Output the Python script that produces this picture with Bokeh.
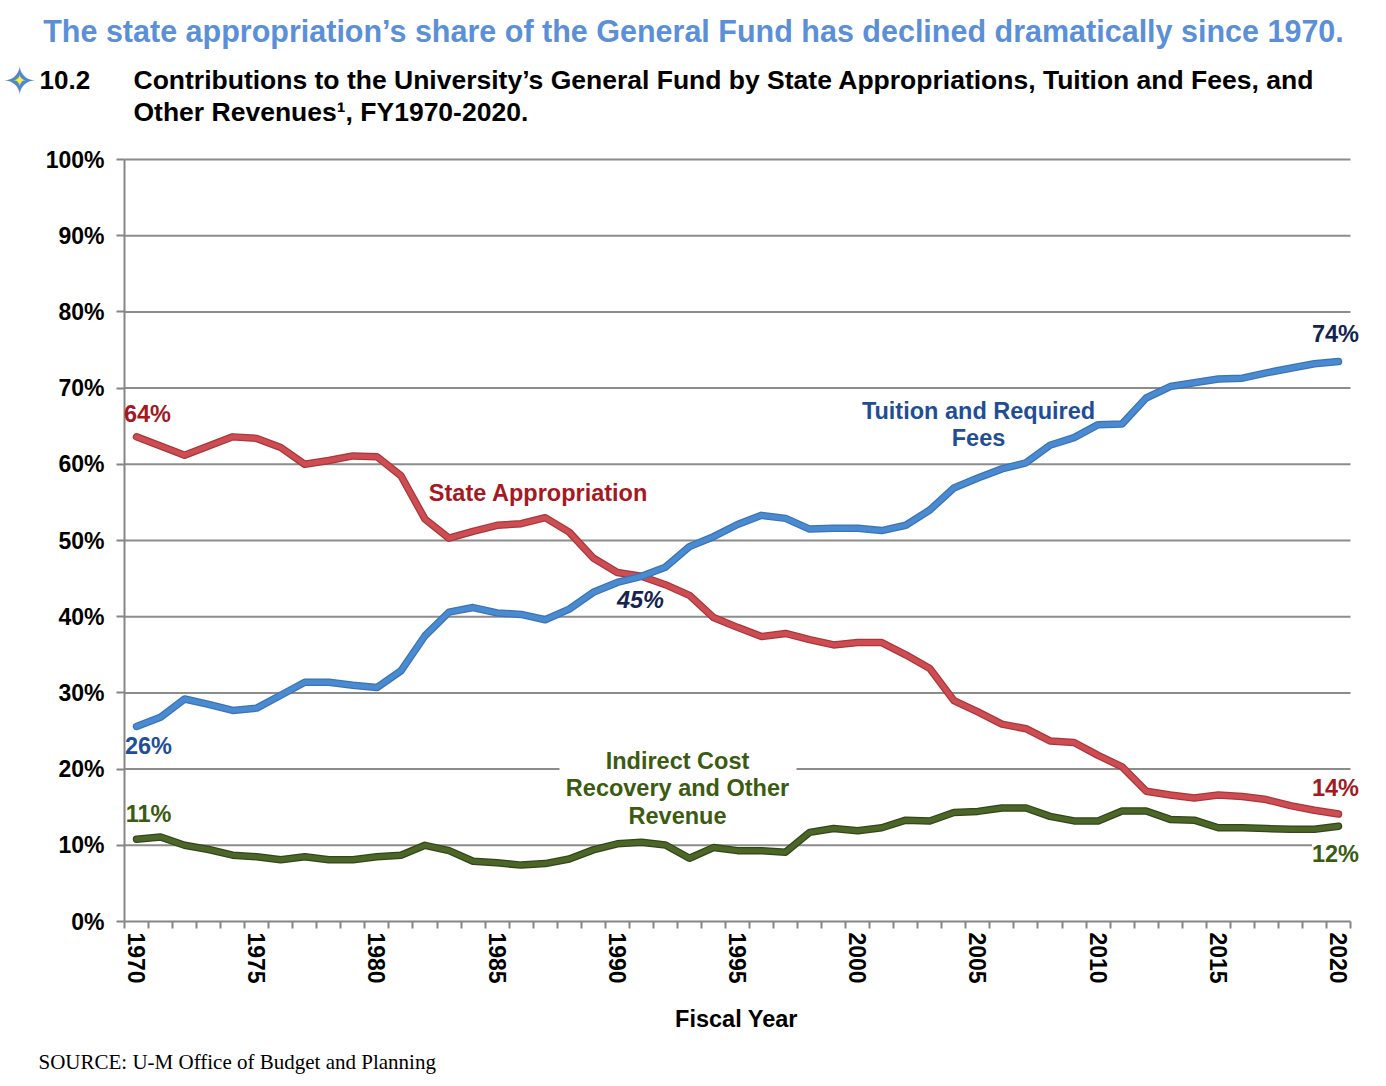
from bokeh.plotting import figure
from bokeh.models import Range1d, FixedTicker, Label, BoxAnnotation
from bokeh.embed import file_html
from bokeh.resources import INLINE

# ---------------- data ----------------
years = list(range(1970, 2021))
state_approp = [63.6, 62.4, 61.2, 62.4, 63.6, 63.4, 62.2, 60.0, 60.5, 61.1,
                61.0, 58.5, 52.8, 50.3, 51.2, 52.0, 52.2, 53.0, 51.1, 47.7,
                45.8, 45.3, 44.2, 42.8, 39.9, 38.6, 37.4, 37.8, 37.0, 36.3,
                36.6, 36.6, 35.0, 33.2, 29.0, 27.5, 25.9, 25.3, 23.7, 23.5,
                21.8, 20.3, 17.1, 16.6, 16.2, 16.6, 16.4, 16.0, 15.2, 14.6, 14.1]
tuition_fees = [25.6, 26.8, 29.2, 28.5, 27.7, 28.0, 29.7, 31.4, 31.4, 31.0,
                30.7, 32.9, 37.5, 40.6, 41.2, 40.5, 40.3, 39.6, 41.0, 43.2,
                44.5, 45.3, 46.5, 49.2, 50.5, 52.1, 53.3, 52.9, 51.5, 51.6,
                51.6, 51.3, 52.0, 54.0, 56.9, 58.2, 59.4, 60.2, 62.5, 63.5,
                65.2, 65.3, 68.7, 70.2, 70.7, 71.2, 71.3, 72.0, 72.6, 73.2, 73.5]
other_revenue = [10.8, 11.1, 10.0, 9.45, 8.7, 8.5, 8.1, 8.5, 8.1, 8.1,
                 8.5, 8.7, 10.0, 9.3, 7.9, 7.7, 7.4, 7.6, 8.2, 9.4,
                 10.2, 10.4, 10.05, 8.3, 9.7, 9.3, 9.3, 9.1, 11.7, 12.2,
                 11.9, 12.3, 13.3, 13.2, 14.3, 14.45, 14.9, 14.9, 13.8, 13.2,
                 13.2, 14.5, 14.5, 13.4, 13.3, 12.3, 12.3, 12.2, 12.1, 12.1, 12.5]
x_tick_years = [1970, 1975, 1980, 1985, 1990, 1995, 2000, 2005, 2010, 2015, 2020]
y_ticks = [0, 10, 20, 30, 40, 50, 60, 70, 80, 90, 100]
y_tick_labels = {v: f"{v}%" for v in y_ticks}

title_text = "The state appropriation\u2019s share of the General Fund has declined dramatically since 1970."
sub_number = "10.2"
sub_line1 = "Contributions to the University\u2019s General Fund by State Appropriations, Tuition and Fees, and"
sub_line2 = "Other Revenues\u00b9, FY1970-2020."
x_axis_title = "Fiscal Year"
source_text = "SOURCE: U-M Office of Budget and Planning"

FONT = "Liberation Sans"

# ---------------- layout geometry (canvas pixels) ----------------
W_PX, H_PX = 1386, 1086
PLOT_L, PLOT_R, PLOT_T, PLOT_B = 124, 1350, 159, 921
X0, X1 = years[0] - 0.5, years[-1] + 0.5
px_per_year = (PLOT_R - PLOT_L) / (X1 - X0)
px_per_pct = (PLOT_B - PLOT_T) / 100.0
x_start = X0 - PLOT_L / px_per_year
x_end = X1 + (W_PX - PLOT_R) / px_per_year
y_start = -(H_PX - PLOT_B) / px_per_pct
y_end = 100 + PLOT_T / px_per_pct

def cx(px):  # canvas px -> data x
    return x_start + px / px_per_year

def cy(py):  # canvas px -> data y
    return y_end - py / px_per_pct

p = figure(width=W_PX, height=H_PX, output_backend="svg", toolbar_location=None,
           x_range=Range1d(x_start, x_end), y_range=Range1d(y_start, y_end),
           min_border=0, title_location=None,
           background_fill_color="white", border_fill_color="white")
p.outline_line_color = None
p.xgrid.visible = False
p.ygrid.visible = False

# axes drawn at fixed data locations
p.xaxis.fixed_location = 0
p.xaxis.bounds = (X0, X1)
p.xaxis.ticker = FixedTicker(ticks=x_tick_years,
                             minor_ticks=[X0 + i for i in range(len(years) + 1)])
p.xaxis.major_tick_out = 0
p.xaxis.major_tick_in = 0
p.xaxis.minor_tick_out = 7
p.xaxis.minor_tick_in = 0
p.xaxis.minor_tick_line_color = "#868686"
p.xaxis.minor_tick_line_width = 2
p.xaxis.major_label_orientation = "vertical"
p.xaxis.major_label_standoff = 4

p.yaxis.fixed_location = X0
p.yaxis.bounds = (0, 100)
p.yaxis.ticker = FixedTicker(ticks=y_ticks, minor_ticks=[])
p.yaxis.major_label_overrides = y_tick_labels
p.yaxis.major_tick_out = 8
p.yaxis.major_tick_in = 0
p.yaxis.major_label_standoff = 12

for ax in (p.xaxis, p.yaxis):
    ax.axis_line_color = "#868686"
    ax.axis_line_width = 2
    ax.major_tick_line_color = "#868686"
    ax.major_tick_line_width = 2
    ax.major_label_text_font = FONT
    ax.major_label_text_font_style = "bold"
    ax.major_label_text_font_size = "23px"
    ax.major_label_text_color = "black"

# horizontal gridlines at the y ticks, spanning the plot area only
grid_y = [v for v in y_ticks if v > 0]
p.segment(x0=[X0] * len(grid_y), x1=[X1] * len(grid_y), y0=grid_y, y1=grid_y,
          line_color="#8c8c8c", line_width=2)

# lines (darker edge + main colour)
series = [
    (state_approp, "#A8373C", "#CD4D52"),
    (tuition_fees, "#3A74B6", "#4A8AD0"),
    (other_revenue, "#33461A", "#4B6626"),
]
for vals, edge, main in series:
    p.line(years, vals, line_width=7.5, line_color=edge, line_join="round", line_cap="round")
    p.line(years, vals, line_width=5, line_color=main, line_join="round", line_cap="round")

# white box behind the indirect-cost label (breaks the 20% gridline)
p.add_layout(BoxAnnotation(left=cx(559), right=cx(796), bottom=18.9, top=21.3,
                           fill_color="white", fill_alpha=1.0, line_color=None))

def dlabel(x, y, text, color, size="23.5px", style="bold", bg=None, align="center",
           font=FONT):
    lab = Label(x=x, y=y, text=text, text_color=color, text_font=font,
                text_font_size=size, text_font_style=style,
                text_align=align, text_baseline="middle")
    if bg:
        lab.background_fill_color = bg
    p.add_layout(lab)

# in-chart annotations
dlabel(cx(147), cy(413), "64%", "#A3191F")
dlabel(cx(148), cy(745), "26%", "#1F4E9A")
dlabel(cx(148), cy(813), "11%", "#3B5B12")
dlabel(cx(640), cy(599), "45%", "#14244F", style="bold italic")
dlabel(cx(1335), cy(333), "74%", "#14244F")
dlabel(cx(1335), cy(787), "14%", "#A3191F")
dlabel(cx(1335), cy(853), "12%", "#3B5B12", bg="white")
dlabel(cx(538), cy(492), "State Appropriation", "#A5191F")
dlabel(cx(978), cy(410), "Tuition and Required", "#1F4E96")
dlabel(cx(978), cy(437), "Fees", "#1F4E96")
dlabel(cx(677), cy(760), "Indirect Cost", "#3B5B10")
dlabel(cx(677), cy(787), "Recovery and Other", "#3B5B10")
dlabel(cx(677), cy(815), "Revenue", "#3B5B10")

# headings, axis title and source
dlabel(cx(693), cy(30), title_text, "#5B8FD8", size="30.5px")
dlabel(cx(19), cy(80), "\u2726", "#4F86CC", size="40px", style="normal", font="DejaVu Sans")
dlabel(cx(19), cy(80), "\u2726", "#F5EE3A", size="16px", style="normal", font="DejaVu Sans")
dlabel(cx(39), cy(79), sub_number, "black", size="26px", align="left")
dlabel(cx(133), cy(79), sub_line1, "black", size="26.5px", align="left")
dlabel(cx(133), cy(111), sub_line2, "black", size="26.5px", align="left")
dlabel(cx(736), cy(1018), x_axis_title, "black", size="23.5px")
dlabel(cx(38), cy(1061), source_text, "black", size="21px", style="normal",
       align="left", font="Liberation Serif")

open("out.html", "w").write(file_html(p, INLINE))
